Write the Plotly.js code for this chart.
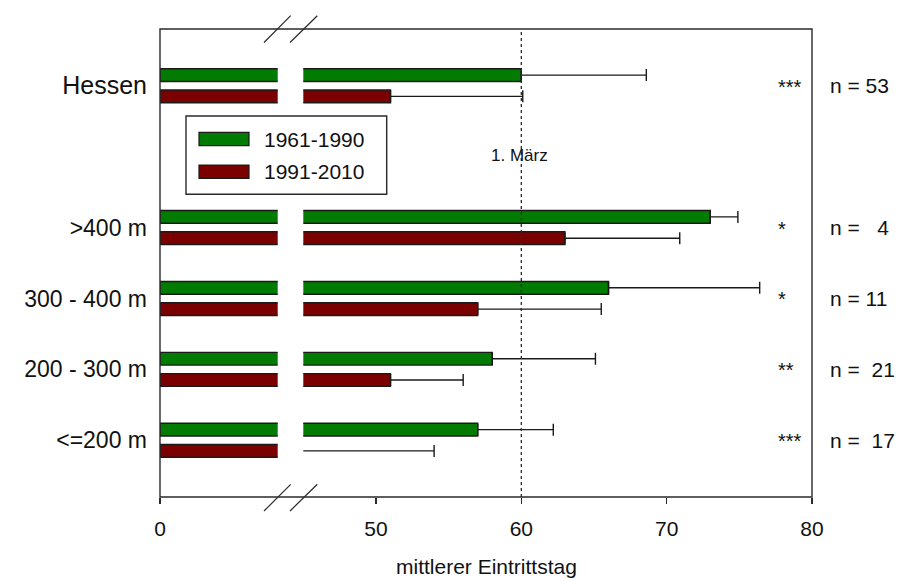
<!DOCTYPE html>
<html>
<head>
<meta charset="utf-8">
<script src="https://cdn.plot.ly/plotly-3.0.1.min.js"></script>
<style>html,body{margin:0;padding:0;background:#fff;}#chart{width:898px;height:581px;}</style>
</head>
<body>
<div id="chart"></div>
<script>
// ---- data ----
const categories = ["<=200 m", "200 - 300 m", "300 - 400 m", ">400 m", "Hessen"];
const seriesNames = ["1961-1990", "1991-2010"];
const mean1961 = [57.0, 58.0, 66.0, 73.0, 60.0];
const err1961  = [5.2, 7.1, 10.4, 1.9, 8.6];
const mean1991 = [44.0, 51.0, 57.0, 63.0, 51.0];
const err1991  = [10.0, 5.0, 8.5, 7.9, 9.1];
const significance = ["***", "**", "*", "*", "***"];
const nLabels = ["n =  17", "n =  21", "n = 11", "n =   4", "n = 53"];
const xTicksRight = [50, 60, 70, 80];
const xTicksLeft = [0];
const markerDay = 60;
const markerLabel = "1. März";
const xTitle = "mittlerer Eintrittstag";

// ---- layout helpers ----
const W = 898, H = 581;
const M = {l: 160, r: 86, t: 29, b: 84};
const PW = W - M.l - M.r, PH = H - M.t - M.b;
const px = x => (x - M.l) / PW;
const py = y => (H - M.b - y) / PH;
const FONT = "'Liberation Sans', Arial, sans-serif";
const colors = ["rgb(2,123,2)", "rgb(123,0,0)"];
const offsets = [0.06, -0.24];
const barW = 0.18;
const yPos = categories.map((c, i) => (i < 4 ? i : i + 1));
const means = [mean1961, mean1991];
const errs = [err1961, err1991];

const traces = [];
for (let s = 0; s < 2; s++) {
  ["x", "x2"].forEach(ax => {
    const t = {
      type: "bar", orientation: "h",
      x: means[s], y: yPos, xaxis: ax, yaxis: "y",
      width: barW, offset: offsets[s],
      marker: {color: colors[s], line: {color: "#1a1a1a", width: 1.4}},
      showlegend: false, hoverinfo: "skip", cliponaxis: true
    };
    if (ax === "x2") {
      t.error_x = {type: "data", symmetric: false, array: errs[s],
        arrayminus: errs[s].map(() => 0), color: "#1a1a1a", thickness: 1.4, width: 6};
    }
    traces.push(t);
  });
}

const shapes = [];
const annotations = [];
const ln = "#2a2a2a";
// frame
shapes.push({type: "rect", xref: "paper", yref: "paper", x0: 0, x1: 1, y0: 0, y1: 1,
  line: {color: ln, width: 1.4}, layer: "above"});
// marker day dotted line
shapes.push({type: "line", xref: "x2", yref: "paper", x0: markerDay, x1: markerDay, y0: 0, y1: 1,
  line: {color: ln, width: 1.3, dash: "dot"}});
// axis break marks
[[264, 290.7], [290, 317.3]].forEach(([a, b]) => {
  shapes.push({type: "line", xref: "paper", yref: "paper", x0: px(a), y0: py(42.5), x1: px(b), y1: py(15.7),
    line: {color: ln, width: 1.2}});
  shapes.push({type: "line", xref: "paper", yref: "paper", x0: px(a), y0: py(511), x1: px(b), y1: py(484.3),
    line: {color: ln, width: 1.2}});
});
// legend box
shapes.push({type: "rect", xref: "paper", yref: "paper", x0: px(186), x1: px(386.7), y0: py(194.3), y1: py(116),
  line: {color: ln, width: 1.4}, fillcolor: "#fff"});
const swY = [[132.3, 145.7], [165, 178.3]];
seriesNames.forEach((name, s) => {
  shapes.push({type: "rect", xref: "paper", yref: "paper", x0: px(199), x1: px(249),
    y0: py(swY[s][1]), y1: py(swY[s][0]), fillcolor: colors[s], line: {color: "#1a1a1a", width: 1.2}});
  annotations.push({xref: "paper", yref: "paper", x: px(262), y: py((swY[s][0] + swY[s][1]) / 2),
    xanchor: "left", yanchor: "middle", text: name, showarrow: false,
    font: {family: FONT, size: 21, color: "#111"}});
});
// marker label
annotations.push({xref: "x2", yref: "paper", x: markerDay, y: py(155), xanchor: "center", yanchor: "middle",
  xshift: -2, text: markerLabel, showarrow: false, font: {family: FONT, size: 17, color: "#111"}});
// significance and n labels
categories.forEach((c, i) => {
  annotations.push({xref: "paper", yref: "y", x: px(776), y: yPos[i], xanchor: "left", yanchor: "middle",
    yshift: -1, text: significance[i], showarrow: false, font: {family: FONT, size: 20, color: "#111"}});
  annotations.push({xref: "paper", yref: "y", x: px(828), y: yPos[i], xanchor: "left", yanchor: "middle",
    text: nLabels[i].replace(/ /g, "\u00a0"), showarrow: false, font: {family: FONT, size: 21, color: "#111"}});
});
// x title
annotations.push({xref: "paper", yref: "paper", x: 0.5, y: py(566), xanchor: "center", yanchor: "middle",
  text: xTitle, showarrow: false, font: {family: FONT, size: 21, color: "#111"}});

const tickFont = {family: FONT, size: 21, color: "#111"};
const layout = {
  width: W, height: H,
  margin: M,
  paper_bgcolor: "#fff", plot_bgcolor: "rgba(0,0,0,0)",
  barmode: "overlay",
  showlegend: false,
  xaxis: {domain: [0, px(277.7)], range: [0, 40], tickvals: xTicksLeft, ticks: "outside", ticklen: 6,
    tickwidth: 1.4, tickcolor: ln, showgrid: false, zeroline: false, showline: false,
    tickfont: tickFont, ticklabelstandoff: 7, anchor: "y", fixedrange: true},
  xaxis2: {domain: [px(303.3), 1], range: [45, 80], tickvals: xTicksRight, ticks: "outside", ticklen: 6,
    tickwidth: 1.4, tickcolor: ln, showgrid: false, zeroline: false, showline: false,
    tickfont: tickFont, ticklabelstandoff: 7, anchor: "y", fixedrange: true},
  yaxis: {range: [-0.8, 5.8], tickvals: yPos,
    ticktext: categories.map(c => c === "Hessen" ? '<span style="font-size:25px">Hessen</span>' : c.replace(/</g, "&lt;").replace(/>/g, "&gt;")),
    ticks: "", showgrid: false, zeroline: false, showline: false, anchor: "x",
    tickfont: {family: FONT, size: 23, color: "#111"}, ticklabelstandoff: 12, fixedrange: true},
  shapes: shapes,
  annotations: annotations
};
Plotly.newPlot("chart", traces, layout, {displayModeBar: false, staticPlot: true});
</script>
</body>
</html>
